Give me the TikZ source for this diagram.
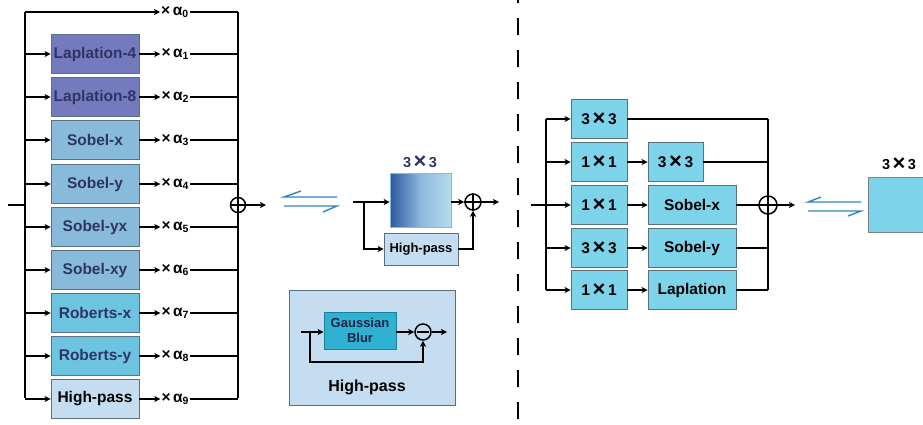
\documentclass[tikz,border=0pt]{standalone}
\usepackage{fontspec}
\setmainfont{Liberation Sans}
\usetikzlibrary{arrows.meta}
\definecolor{navy}{HTML}{2E3466}
\definecolor{lapc}{HTML}{747ABE}
\definecolor{sobc}{HTML}{88BADA}
\definecolor{robc}{HTML}{6CC4E0}
\definecolor{hpc}{HTML}{C5DDF0}
\definecolor{cyc}{HTML}{7DD3EA}
\definecolor{gbc}{HTML}{2FB1D2}
\definecolor{eqc}{HTML}{2E86C1}
\definecolor{bordc}{HTML}{5A6F80}
\tikzset{
  ln/.style={line width=1.6pt},
  arr/.style={ln,-{Stealth[length=6pt,width=6pt,inset=1.5pt]}},
  box/.style={draw=bordc, line width=0.7pt, inner sep=0pt, minimum height=39pt,
    font=\bfseries\fontsize{15.5}{18}\selectfont, text=navy},
  lbox/.style={box, minimum width=88pt},
  rbox/.style={box, fill=cyc, text=black},
  alab/.style={anchor=west, inner sep=1pt, text height=9pt, text depth=3pt,
    font=\bfseries\fontsize{15.5}{18}\selectfont},
  sumc/.style={circle, draw, line width=1.5pt, inner sep=0pt, minimum size=#1},
  sumc/.default=15pt,
  eqline/.style={draw=eqc, line width=1.4pt},
}
\newcommand{\ax}[1]{×\,α\textsubscript{\fontsize{10.5}{10}\selectfont #1}}
\newcommand{\bx}{\,\raisebox{-1.2pt}{\fontsize{22}{22}\selectfont ×}\,}
\begin{document}
\begin{tikzpicture}[x=1pt,y=-1pt]
\useasboundingbox (0,0) rectangle (923,424);

% ---------------- left column ----------------
\coordinate (lin) at (8,205);
\coordinate (lbt) at (25,12);
\coordinate (lbb) at (25,398);
\coordinate (rbt) at (238,12);
\coordinate (rbb) at (238,398);
\draw[ln] (lin) -- (lin -| lbt);
\draw[ln] (lbt) -- (lbb);
\draw[ln] (rbt) -- (rbb);

\node[alab] (a0) at (160,12) {\ax{0}};
\draw[arr] (lbt) -- (a0.west);
\draw[ln] (a0.east) -- (rbt);

\node[lbox, fill=lapc] (b1) at (95,54)  {Laplation-4};
\node[lbox, fill=lapc] (b2) at (95,97)  {Laplation-8};
\node[lbox, fill=sobc] (b3) at (95,140) {Sobel-x};
\node[lbox, fill=sobc] (b4) at (95,184) {Sobel-y};
\node[lbox, fill=sobc] (b5) at (95,227) {Sobel-yx};
\node[lbox, fill=sobc] (b6) at (95,270) {Sobel-xy};
\node[lbox, fill=robc] (b7) at (95,313) {Roberts-x};
\node[lbox, fill=robc] (b8) at (95,356) {Roberts-y};
\node[lbox, fill=hpc, text=black] (b9) at (95,399) {High-pass};

\foreach \i in {1,...,9}{
  \node[alab] (a\i) at ([xshift=21pt]b\i.east) {\ax{\i}};
  \draw[arr] (b\i.west -| lbt) -- (b\i.west);
  \draw[arr] (b\i.east) -- (a\i.west);
  \draw[ln] (a\i.east) -- (a\i.east -| rbt);
}

\node[sumc] (s1) at (238,205) {};
\draw[line width=1.5pt] (s1.west) -- (s1.east) (s1.north) -- (s1.south);
\coordinate (s1o) at (266,205);
\draw[arr] (s1.east) -- (s1o);

% equilibrium 1
\coordinate (e1a) at (284,197);
\coordinate (e1b) at (337,197);
\coordinate (e1c) at (284,206);
\coordinate (e1d) at (337,206);
\draw[eqline] (e1b) -- (e1a) -- ++(17,-6);
\draw[eqline] (e1c) -- (e1d) -- ++(-14,6);

% ---------------- middle block ----------------
\node[draw=sobc, line width=0.6pt, minimum width=61pt, minimum height=54pt, inner sep=0pt,
  left color={rgb,255:red,43;green,88;blue,160}, right color={rgb,255:red,181;green,220;blue,239},
  middle color={rgb,255:red,140;green,185;blue,220}] (g) at (420.5,200) {};
\node[font=\bfseries\fontsize{14.5}{16}\selectfont, text=navy] (gl) at (420,162) {3\bx3};
\coordinate (min) at (353,202);
\coordinate (mbr) at (364,202);
\draw[arr] (min) -- (g.west |- min);
\node[box, fill=hpc, text=black, minimum width=74pt, minimum height=32pt,
  font=\bfseries\fontsize{13}{15}\selectfont] (hp) at (421,249) {High-pass};
\draw[arr] (mbr) |- (hp.west);
\node[sumc=16pt] (s2) at (473,202) {};
\draw[line width=1.5pt] (s2.west) -- (s2.east) (s2.north) -- (s2.south);
\draw[arr] (g.east |- s2) -- (s2.west);
\draw[arr] (hp.east) -| (s2.south);
\coordinate (s2o) at (499,202);
\draw[arr] (s2.east) -- (s2o);

% high-pass detail
\node[draw=bordc, line width=0.7pt, fill=hpc, minimum width=166pt, minimum height=115pt, inner sep=0pt] (hd) at (372,347.5) {};
\node[draw={rgb,255:red,30;green,127;blue,153}, line width=0.7pt, fill=gbc, minimum width=72pt, minimum height=37pt,
  inner sep=0pt, align=center, font=\bfseries\fontsize{13}{15}\selectfont, text=navy!70!black] (gb) at (360,330.5) {Gaussian\\Blur};
\node[sumc=16pt] (s3) at (423,332) {};
\draw[line width=1.5pt] ([xshift=3pt]s3.west) -- ([xshift=-3pt]s3.east);
\coordinate (hin) at (301,332);
\coordinate (hbr) at (310,332);
\coordinate (hlo) at (310,362);
\draw[arr] (hin) -- (gb.west |- hin);
\draw[arr] (hbr) -- (hlo) -| (s3.south);
\draw[arr] (gb.east |- s3) -- (s3.west);
\coordinate (s3o) at (447,332);
\draw[arr] (s3.east) -- (s3o);
\node[font=\bfseries\fontsize{16}{18}\selectfont] (hdl) at (367,387) {High-pass};

% dashed separator
\coordinate (dt) at (518,-14);
\coordinate (db) at (518,424);
\draw[line width=1.8pt, dash pattern=on 17pt off 15pt] (dt) -- (db);

% ---------------- right block ----------------
\coordinate (rin) at (531,205);
\coordinate (rlt) at (546,119);
\coordinate (rlb) at (546,290);
\coordinate (rrt) at (768,119);
\coordinate (rrb) at (768,290);
\draw[ln] (rin) -- (rin -| rlt);
\draw[ln] (rlt) -- (rlb);
\draw[ln] (rrt) -- (rrb);

\node[rbox, minimum width=56pt] (c1) at (599,119) {3\bx3};
\node[rbox, minimum width=56pt] (c2) at (599,162) {1\bx1};
\node[rbox, minimum width=56pt] (c3) at (599,205) {1\bx1};
\node[rbox, minimum width=56pt] (c4) at (599,248) {3\bx3};
\node[rbox, minimum width=56pt] (c5) at (599,290) {1\bx1};

\node[rbox, minimum width=55pt] (d2) at (675.5,162) {3\bx3};
\node[rbox, minimum width=88pt] (d3) at (692,205) {Sobel-x};
\node[rbox, minimum width=88pt] (d4) at (692,248) {Sobel-y};
\node[rbox, minimum width=88pt] (d5) at (692,290) {Laplation};

\foreach \i in {1,...,5}{
  \draw[arr] (c\i.west -| rlt) -- (c\i.west);
}
\draw[ln] (c1.east) -- (c1.east -| rrt);
\foreach \i in {2,...,5}{
  \draw[arr] (c\i.east) -- (d\i.west);
}
\draw[ln] (d2.east) -- (d2.east -| rrt);
\draw[ln] (d4.east) -- (d4.east -| rrt);
\draw[ln] (d5.east) -- (d5.east -| rrt);
\node[sumc=18pt] (s4) at (768,205) {};
\draw[line width=1.5pt] (s4.west) -- (s4.east) (s4.north) -- (s4.south);
\draw[ln] (d3.east) -- (s4.west);
\coordinate (s4o) at (795,205);
\draw[arr] (s4.east) -- (s4o);

% equilibrium 2
\coordinate (e2a) at (808,202);
\coordinate (e2b) at (861,202);
\coordinate (e2c) at (808,211);
\coordinate (e2d) at (861,211);
\draw[eqline] (e2b) -- (e2a) -- ++(13,-5);
\draw[eqline] (e2c) -- (e2d) -- ++(-13,5);

\node[draw=gray, line width=0.8pt, fill=cyc, minimum width=60pt, minimum height=55pt, inner sep=0pt] (fb) at (898,204.5) {};
\node[font=\bfseries\fontsize{14.5}{16}\selectfont] (fbl) at (899,164) {3\bx3};
\end{tikzpicture}
\end{document}
